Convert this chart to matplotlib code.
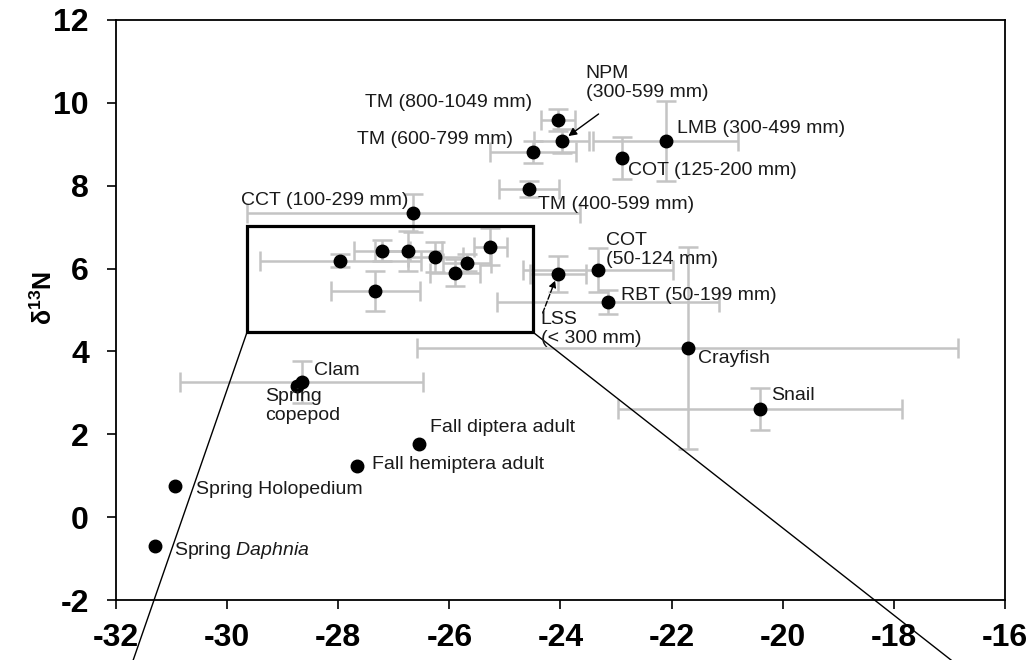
import numpy as np
import matplotlib
matplotlib.use('Agg')
import matplotlib.pyplot as plt
from matplotlib.patches import Rectangle

plt.rcParams['font.family'] = ['Liberation Sans', 'DejaVu Sans']
plt.rcParams['axes.unicode_minus'] = False
plt.rcParams['mathtext.fontset'] = 'custom'
plt.rcParams['mathtext.rm'] = 'Liberation Sans'
plt.rcParams['mathtext.it'] = 'Liberation Sans:italic'
plt.rcParams['mathtext.bf'] = 'Liberation Sans:bold'

# Consumer / prey groups (labelled ones first, unlabelled box cluster last)
groups = ['TM (800-1049 mm)', 'NPM\n(300-599 mm)', 'TM (600-799 mm)',
          'LMB (300-499 mm)', 'COT (125-200 mm)', 'TM (400-599 mm)',
          'CCT (100-299 mm)', 'COT\n(50-124 mm)', 'RBT (50-199 mm)',
          'LSS\n(< 300 mm)', 'Crayfish', 'Snail', 'Clam', 'Spring\ncopepod',
          'Fall diptera adult', 'Fall hemiptera adult', 'Spring Holopedium',
          'Spring $\\mathit{Daphnia}$',
          '', '', '', '', '', '', '', '']
d13c = [-24.04, -23.98, -24.49, -22.11, -22.90, -24.56, -26.65, -23.33,
        -23.15, -24.05, -21.71, -20.41, -28.66, -28.74, -26.54, -27.66,
        -30.94, -31.30,
        -27.96, -27.33, -27.21, -26.74, -26.25, -25.89, -25.68, -25.26]
d15n = [9.59, 9.08, 8.82, 9.08, 8.67, 7.92, 7.34, 5.97,
        5.19, 5.87, 4.09, 2.61, 3.26, 3.17, 1.77, 1.24,
        0.75, -0.70,
        6.19, 5.46, 6.43, 6.43, 6.28, 5.90, 6.14, 6.53]
d13c_sd = [0.31, 0.50, 0.77, 1.30, 0.00, 0.54, 3.00, 1.35,
           2.00, 0.50, 4.87, 2.56, 2.18, 0.00, 0.00, 0.00,
           0.00, 0.00,
           1.45, 0.80, 0.50, 0.60, 0.50, 0.45, 0.43, 0.30]
d15n_sd = [0.26, 0.30, 0.27, 0.97, 0.50, 0.20, 0.46, 0.53,
           0.29, 0.43, 2.44, 0.50, 0.50, 0.00, 0.00, 0.00,
           0.00, 0.00,
           0.15, 0.48, 0.25, 0.48, 0.36, 0.33, 0.20, 0.44]

# label placement: offset in pixels from the point, horizontal alignment
label_pos = [(-26, 17, 'right'), (24, 58, 'left'), (-20, 12, 'right'),
             (11, 12, 'left'), (6, -13, 'left'), (9, -15, 'left'),
             (-5, 13, 'right'), (8, 20, 'left'), (13, 7, 'left'),
             (-17, -55, 'left'), (10, -11, 'left'), (11, 14, 'left'),
             (12, 12, 'left'), (-32, -20, 'left'), (11, 16, 'left'),
             (15, 1, 'left'), (21, -3, 'left'), (19, -4, 'left')]

# zoom box drawn over the trout cluster
box_x = [-29.64, -24.50]
box_y = [4.47, 7.03]

fig = plt.figure(figsize=(10.29, 6.6), dpi=100)
ax = fig.add_axes([0.1127, 0.0909, 0.864, 0.8788])

x = np.array(d13c)
y = np.array(d15n)
xe = np.array(d13c_sd)
ye = np.array(d15n_sd)
err_style = dict(fmt='none', ecolor='#c4c4c4', elinewidth=1.8, capsize=7,
                 capthick=1.8, zorder=2)
hx = xe > 0
hy = ye > 0
ax.errorbar(x[hx], y[hx], xerr=xe[hx], **err_style)
ax.errorbar(x[hy], y[hy], yerr=ye[hy], **err_style)
ax.plot(x, y, 'o', color='black', markersize=9, zorder=4)

for i, lab in enumerate(groups):
    if not lab:
        continue
    dx, dy, ha = label_pos[i]
    ax.annotate(lab, (d13c[i], d15n[i]), xytext=(dx, dy),
                textcoords='offset pixels', ha=ha, va='center',
                fontsize=14, color='#1a1a1a', linespacing=1.15, zorder=5)

# arrows for NPM and LSS
ax.annotate('', (d13c[1], d15n[1]), xytext=(37, 27), textcoords='offset pixels',
            arrowprops=dict(arrowstyle='-|>', color='black', lw=1,
                            shrinkA=0, shrinkB=6, mutation_scale=12))
ax.annotate('', (d13c[9], d15n[9]), xytext=(-15, -39), textcoords='offset pixels',
            arrowprops=dict(arrowstyle='-|>', color='black', lw=1, ls='--',
                            shrinkA=0, shrinkB=5, mutation_scale=10))

ax.add_patch(Rectangle((box_x[0], box_y[0]), box_x[1] - box_x[0],
                       box_y[1] - box_y[0], fill=False, lw=2.3,
                       ec='black', zorder=3))
ax.plot([box_x[0], -31.69], [box_y[0], -3.45], color='black', lw=1,
        clip_on=False, zorder=3)
ax.plot([box_x[1], -16.97], [box_y[0], -3.45], color='black', lw=1,
        clip_on=False, zorder=3)

ax.set_xlim(-32, -16)
ax.set_ylim(-2, 12)
ax.set_xticks(np.arange(-32, -15, 2))
ax.set_yticks(np.arange(-2, 13, 2))
ax.tick_params(direction='out', length=6.5, width=1.2, labelsize=23, pad=10)
ax.tick_params(axis='y', pad=13)
for t in ax.get_xticklabels() + ax.get_yticklabels():
    t.set_fontweight('bold')
for s in ax.spines.values():
    s.set_linewidth(1.3)

ax.set_ylabel('δ$^{\\mathbf{13}}$N', fontsize=18, fontweight='bold')
ax.yaxis.set_label_coords(-0.066, 0.52)

fig.savefig('out.png', dpi=100)
